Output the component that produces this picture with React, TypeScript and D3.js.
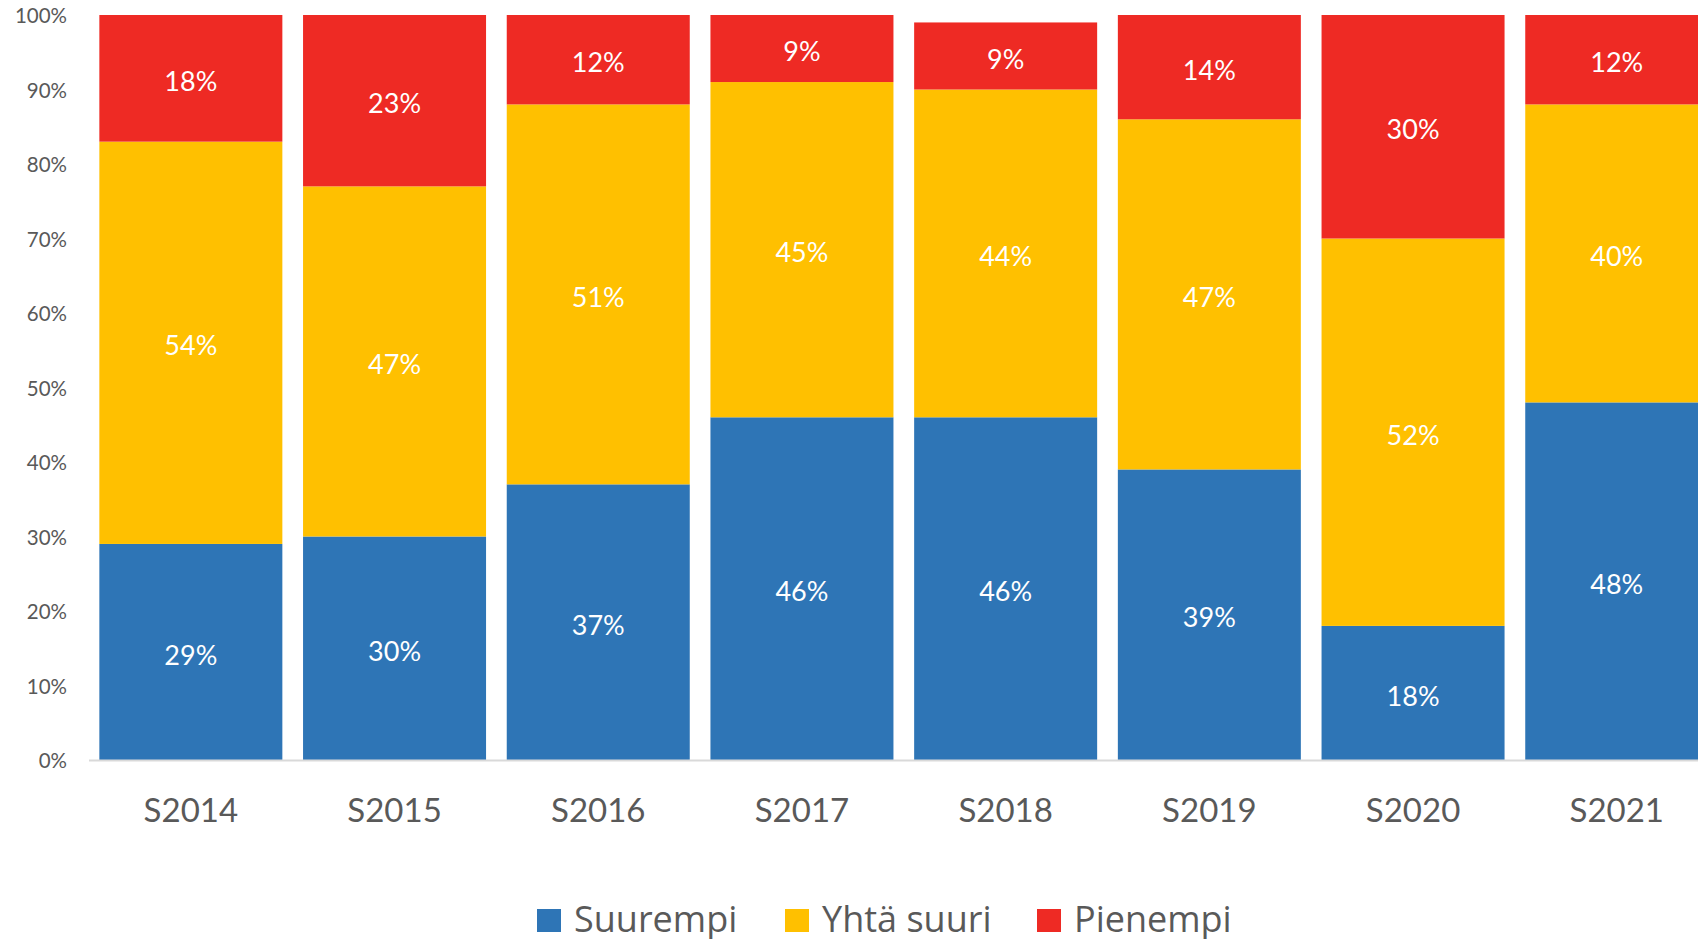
import React from "react";
import * as d3 from "d3";

const categories = ["S2014", "S2015", "S2016", "S2017", "S2018", "S2019", "S2020", "S2021"];
const suurempi = [29, 30, 37, 46, 46, 39, 18, 48];
const yhtaSuuri = [54, 47, 51, 45, 44, 47, 52, 40];
const pienempi = [18, 23, 12, 9, 9, 14, 30, 12];
const seriesNames = ["Suurempi", "Yhtä suuri", "Pienempi"];
const seriesColors = ["#2E75B6", "#FFC000", "#EE2A24"];
const yTicks = [0, 10, 20, 30, 40, 50, 60, 70, 80, 90, 100];

const W = 1698;
const H = 939;
const FONT = "Lato, 'Open Sans', sans-serif";
const TEXT = "#595959";

export default function App() {
  const x = d3
    .scaleBand<string>()
    .domain(categories)
    .range([89, 89 + 8 * 203.7])
    .paddingInner(0.1016)
    .paddingOuter(0.0508);
  const y = d3.scaleLinear().domain([0, 100]).range([760, 15]);

  const series = [suurempi, yhtaSuuri, pienempi];
  const legendX = [537, 785, 1037];

  return (
    <svg
      width={W}
      height={H}
      style={{ position: "absolute", left: 0, top: 0, background: "#fff" }}
      fontFamily={FONT}
    >
      {yTicks.map((t) => (
        <text
          key={t}
          x={67}
          y={y(t)}
          dy="0.4em"
          textAnchor="end"
          fontSize={20.5}
          fill={TEXT}
        >
          {t}%
        </text>
      ))}
      {categories.map((c, i) => {
        let cum = 0;
        const x0 = x(c) as number;
        const bw = x.bandwidth();
        return (
          <g key={c}>
            {series.map((s, k) => {
              const lo = Math.min(cum, 100);
              const hi = Math.min(cum + s[i], 100);
              cum += s[i];
              const yTop = y(hi);
              const yBot = y(lo);
              return (
                <g key={k}>
                  <rect x={x0} y={yTop} width={bw} height={yBot - yTop} fill={seriesColors[k]} />
                  <text
                    x={x0 + bw / 2}
                    y={(yTop + yBot) / 2}
                    dy="0.47em"
                    textAnchor="middle"
                    fontSize={27}
                    fill="#fff"
                  >
                    {s[i]}%
                  </text>
                </g>
              );
            })}
            <text x={x0 + bw / 2} y={822} textAnchor="middle" fontSize={33} fill={TEXT}>
              {c}
            </text>
          </g>
        );
      })}
      <line x1={89} x2={W} y1={760.5} y2={760.5} stroke="#D9D9D9" strokeWidth={2} />
      {seriesNames.map((n, k) => (
        <g key={n}>
          <rect x={legendX[k]} y={909} width={24} height={23} fill={seriesColors[k]} />
          <text
            x={legendX[k] + 37}
            y={932}
            fontSize={36}
            fontFamily="'Open Sans', Lato, sans-serif"
            fill={TEXT}
          >
            {n}
          </text>
        </g>
      ))}
    </svg>
  );
}
